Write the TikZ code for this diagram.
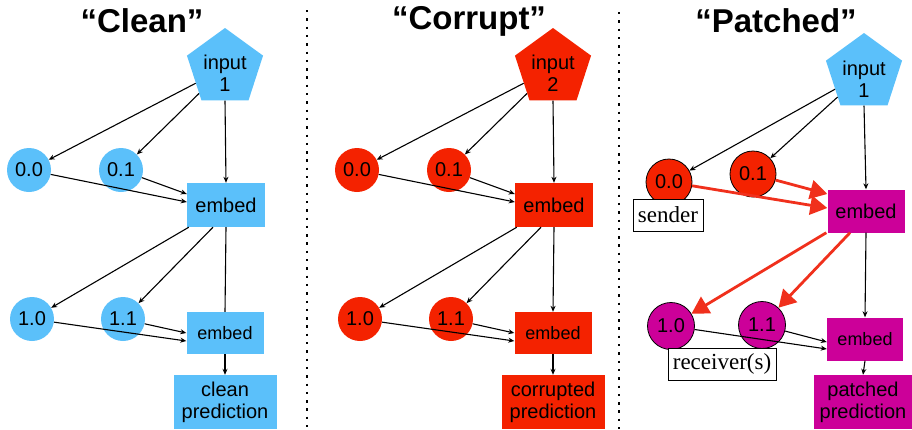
\documentclass[tikz,border=0pt]{standalone}
\usepackage{fontspec}
\setmainfont{Liberation Sans}
\newfontfamily\serifx{Liberation Serif}
\usetikzlibrary{shapes.geometric,arrows.meta,calc}
\definecolor{cblue}{RGB}{91,192,250}
\definecolor{cred}{RGB}{244,34,0}
\definecolor{cmag}{RGB}{204,0,153}
\definecolor{arred}{RGB}{240,48,28}
\tikzset{
  nf/.style={font=\fontsize{20}{22}\selectfont},
  blk/.style={-{Stealth[length=6pt,width=5pt]}, line width=1.1pt},
  redarr/.style={-{Triangle[length=17pt,width=19pt]}, line width=2.8pt, draw=arred, fill=arred},
  circ/.style={circle, minimum size=44pt, inner sep=0pt, nf},
  pent/.style={regular polygon, regular polygon sides=5, minimum size=80pt, inner sep=0pt},
  boxn/.style={rectangle, inner sep=0pt, align=center, nf},
  tag/.style={draw, fill=white, line width=0.7pt, inner xsep=5pt, minimum height=32pt,
              font=\serifx\fontsize{23}{25}\selectfont},
  ttl/.style={font=\bfseries\fontsize{33}{36}\selectfont},
  dotsep/.style={line width=2.4pt, line cap=butt, dash pattern=on 2.4pt off 5.9pt}
}
\newcommand\Rpanel[6]{%
\begin{scope}[xshift=#2pt]
\node[pent,fill=#3,label={[nf,align=center,yshift=-5pt]center:input\\#4}] (#1in) at (225,68) {};
\node[circ,fill=#3] (#1a) at (29,170) {0.0};
\node[circ,fill=#3] (#1b) at (121,170) {0.1};
\node[boxn,fill=#3,minimum width=78pt,minimum height=44pt] (#1e) at (226,205) {embed};
\node[circ,fill=#3] (#1c) at (32,319) {1.0};
\node[circ,fill=#3] (#1d) at (123,319) {1.1};
\node[boxn,fill=#3,minimum width=77pt,minimum height=42pt,font=\fontsize{18}{20}\selectfont] (#1f) at (225,333) {embed};
\node[boxn,fill=#3,minimum width=103pt,minimum height=54pt] (#1p) at (225,402) {#5};
\draw[blk] (#1in) -- (#1a);
\draw[blk] (#1in) -- (#1b);
\draw[blk] (#1in.south) -- (#1e.north);
\draw[blk] (#1a) -- ([yshift=3pt]#1e.west);
\draw[blk] (#1b) -- ([yshift=11pt]#1e.west);
\draw[blk] ([xshift=2pt]#1e.south west) -- (#1c);
\draw[blk] ([xshift=-13pt]#1e.south) -- (#1d);
\draw[blk,#6] (#1e.south) -- (#1f.north);
\draw[blk] (#1c) -- ([yshift=-8pt]#1f.west);
\draw[blk] (#1d) -- (#1f.west);
\draw[blk] (#1f.south) -- (#1p.north);
\end{scope}}
\begin{document}
\begin{tikzpicture}[x=1pt,y=-1pt]
\useasboundingbox (0,0) rectangle (912,429);
% titles
\node[ttl] (t1) at (142,21) {“Clean”};
\node[ttl] (t2) at (469,21) {“Corrupt”};
\node[ttl] (t3) at (776,21) {“Patched”};
% separators
\coordinate (d1t) at (307,10); \coordinate (d1b) at (307,429);
\coordinate (d2t) at (619,12); \coordinate (d2b) at (619,429);
\draw[dotsep] (d1t) -- (d1b);
\draw[dotsep] (d2t) -- (d2b);
% clean and corrupt panels
\Rpanel{k}{0}{cblue}{1}{clean\\prediction}{-}
\Rpanel{r}{328}{cred}{2}{corrupted\\prediction}{}
% patched panel
\node[pent,fill=cblue,label={[nf,align=center,yshift=-6pt]center:input\\1}] (pin) at (864,73) {};
\node[circ,fill=cred,draw,line width=0.8pt,minimum size=46pt] (pa) at (669,182) {0.0};
\node[circ,fill=cred,draw,line width=0.8pt,minimum size=46pt] (pb) at (753,174) {0.1};
\node[boxn,fill=cmag,minimum width=77pt,minimum height=43pt] (pe) at (866,211) {embed};
\node[tag] (snd) at (668,215) {sender};
\node[circ,fill=cmag,draw,line width=0.8pt,minimum size=47pt] (pc) at (671,326) {1.0};
\node[circ,fill=cmag,draw,line width=0.8pt,minimum size=47pt] (pd) at (762,325) {1.1};
\node[tag] (rcv) at (722,364) {receiver(s)};
\node[boxn,fill=cmag,minimum width=76pt,minimum height=43pt,font=\fontsize{18}{20}\selectfont] (pf) at (865,339) {embed};
\node[boxn,fill=cmag,minimum width=98pt,minimum height=54pt] (pp) at (863,402) {patched\\prediction};
\draw[blk] (pin) -- (pa);
\draw[blk] (pin) -- (pb);
\draw[blk] (pin.south) -- (pe.north);
\draw[redarr] (pa) -- ([yshift=3pt]pe.west);
\draw[redarr] (pb) -- ([yshift=17pt]pe.west);
\draw[redarr] ([xshift=-1pt]pe.south west) -- (pc);
\draw[redarr] ([xshift=-16pt]pe.south) -- (pd);
\draw[blk] (pe.south) -- (pf.north);
\draw[blk] (pc) -- ([yshift=-10pt]pf.west);
\draw[blk] (pd) -- ([yshift=-3pt]pf.west);
\draw[blk] (pf.south) -- (pp.north);
\end{tikzpicture}
\end{document}
